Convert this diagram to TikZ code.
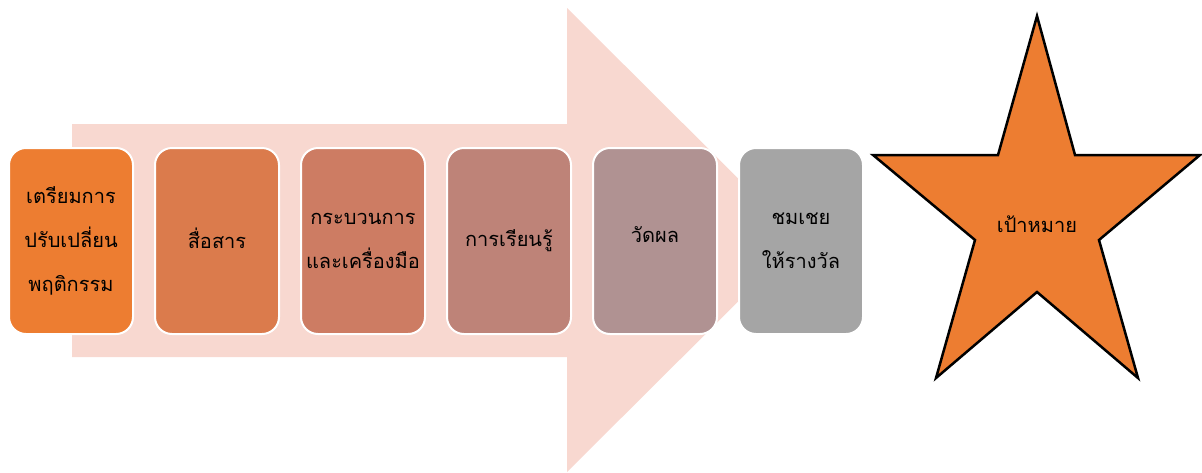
\documentclass[tikz,border=0pt]{standalone}
\usepackage{fontspec}
\newfontfamily\thaifont[Script=Thai]{Loma}
\usetikzlibrary{positioning}
\definecolor{stageA}{HTML}{ED7D31}
\definecolor{stageB}{HTML}{DB7B4C}
\definecolor{stageC}{HTML}{CD7C63}
\definecolor{stageD}{HTML}{BE8378}
\definecolor{stageE}{HTML}{B09292}
\definecolor{stageF}{HTML}{A5A5A5}
\definecolor{arrowpink}{HTML}{F8D8D0}
\tikzstyle{stage} = [rectangle, rounded corners=17pt, minimum width=124pt, minimum height=186pt, text centered, align=center, draw=white, line width=2pt, font=\thaifont\fontsize{20}{44}\selectfont]
\tikzstyle{goal} = [draw=black, line width=2.5pt, fill=stageA, line join=miter]

\begin{document}
\begin{tikzpicture}[x=1pt,y=-1pt]
    \useasboundingbox (0,0) rectangle (1202,472);
    \fill[arrowpink] (72,124) -- (567,124) -- (567,8) -- (800,240) -- (567,472) -- (567,357) -- (72,357) -- cycle;
    \node (prepare) [stage, fill=stageA] at (71,241) {เตรียมการ\\ปรับเปลี่ยน\\พฤติกรรม};
    \node (communicate) [stage, fill=stageB, right=20pt of prepare] {\raisebox{5pt}{สื่อสาร}};
    \node (process) [stage, fill=stageC, right=20pt of communicate] {กระบวนการ\\และเครื่องมือ};
    \node (learn) [stage, fill=stageD, right=20pt of process] {\raisebox{5pt}{การเรียนรู้}};
    \node (measure) [stage, fill=stageE, right=20pt of learn] {\raisebox{12pt}{วัดผล}};
    \node (reward) [stage, fill=stageF, right=20pt of measure] {ชมเชย\\ให้รางวัล};
    \draw[goal] (1037,16) -- (1075,155) -- (1200,155) -- (1099,240) -- (1138,378) -- (1037,292) -- (936,378) -- (975,240) -- (873,155) -- (998,155) -- cycle;
    \node (target) at (1037,224) [font=\thaifont\fontsize{20}{44}\selectfont] {เป้าหมาย};
\end{tikzpicture}
\end{document}
